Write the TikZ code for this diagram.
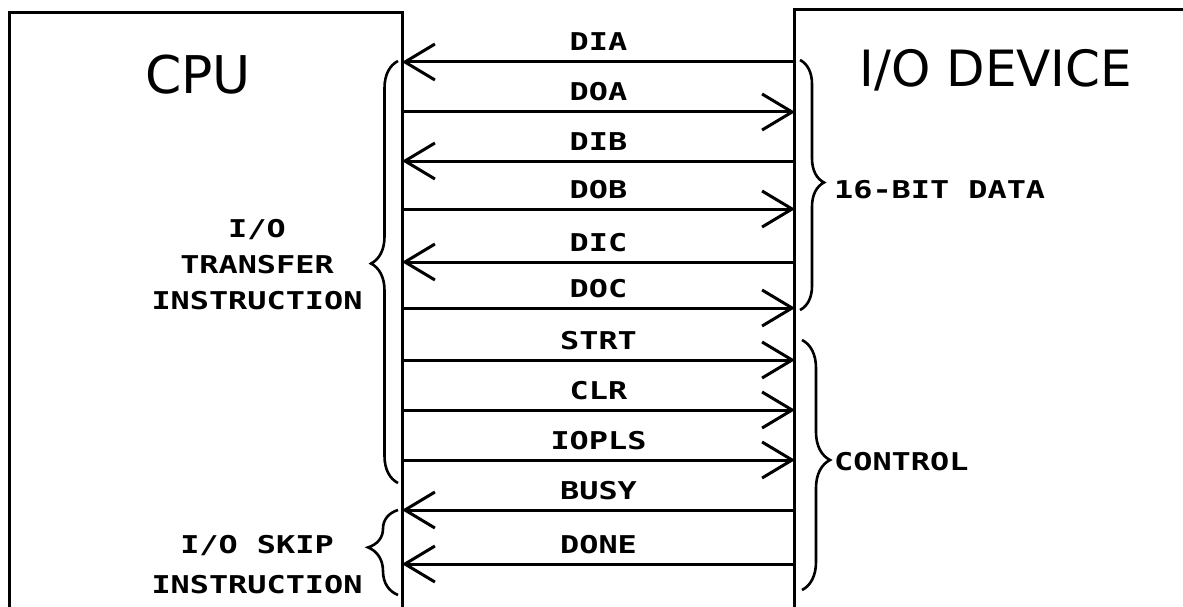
\documentclass[tikz,border=0pt]{standalone}
\usepackage{fontspec}
\setmainfont{DejaVu Sans}
\newfontfamily\labfont[FakeStretch=1.3]{DejaVu Sans Mono}
\usetikzlibrary{arrows.meta,decorations.pathreplacing}
\begin{document}
\begin{tikzpicture}[x=1pt,y=-1pt,
  box/.style={line width=3pt},
  sig/.style={line width=3pt},
  tipend/.style={-{Straight Barb[length=30pt,width=36pt]}},
  lab/.style={font=\labfont\bfseries\fontsize{24.5}{30}\selectfont, inner sep=0pt},
  siglab/.style={lab, midway, anchor=base, yshift=11pt},
  big/.style={inner sep=0pt},
  brc/.style={line width=2.6pt, decorate}]
\useasboundingbox (0,0) rectangle (1183,607);
% boxes
\draw[box] (9,607) -- (9,13) -- (402,13) -- (402,607);
\draw[box] (794,607) -- (794,10) -- (1183,10);
\node[big, font=\fontsize{52}{60}\selectfont] (cpu) at (198,75) {CPU};
\node[big, font=\fontsize{50}{60}\selectfont] (io) at (996,70) {I/O DEVICE};
% signals to CPU
\foreach \yy/\nm in {62/DIA,161/DIB,262/DIC,510/BUSY,564/DONE}{
  \coordinate (c\nm) at (402,\yy);
  \coordinate (d\nm) at (795,\yy);
  \draw[sig,tipend] (d\nm) -- node[siglab]{\nm} (c\nm);
}
% signals to device
\foreach \yy/\nm in {112/DOA,209/DOB,308/DOC,360/STRT,410/CLR,460/IOPLS}{
  \coordinate (c\nm) at (402,\yy);
  \coordinate (d\nm) at (795,\yy);
  \draw[sig,tipend] (c\nm) -- node[siglab]{\nm} (d\nm);
}
% braces
\draw[brc, decoration={brace,amplitude=27pt,aspect=0.52}] (398,483) -- (398,61);
\draw[brc, decoration={brace,amplitude=30pt,aspect=0.56}] (398,595) -- (398,510);
\draw[brc, decoration={brace,amplitude=24pt,aspect=0.49}] (800,60) -- (800,310);
\draw[brc, decoration={brace,amplitude=28pt,aspect=0.48}] (802,340) -- (802,590);
% brace labels
\node[lab, align=center, font=\labfont\bfseries\fontsize{24.5}{36}\selectfont] (xfer) at (257,265) {I/O\\TRANSFER\\INSTRUCTION};
\node[lab, align=center, font=\labfont\bfseries\fontsize{24.5}{40}\selectfont] (skip) at (257,565) {I/O SKIP\\INSTRUCTION};
\node[lab, anchor=west] (data) at (834,190) {16-BIT DATA};
\node[lab, anchor=west] (ctrl) at (834,462) {CONTROL};
\end{tikzpicture}
\end{document}
